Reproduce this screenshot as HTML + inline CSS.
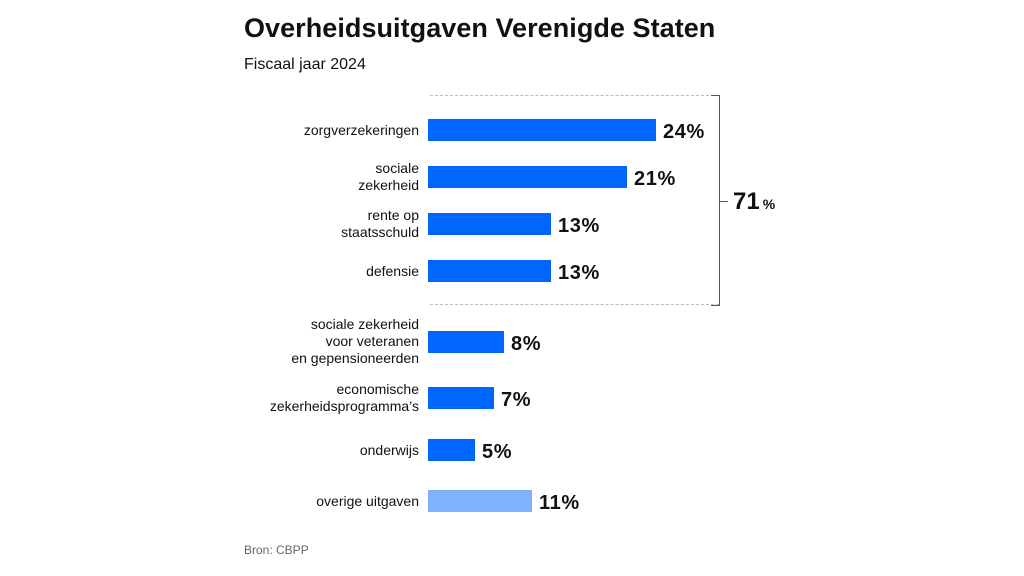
<!DOCTYPE html>
<html><head><meta charset="utf-8"><style>
body{margin:0;width:1024px;height:576px;background:#fff;position:relative;font-family:"Liberation Sans",sans-serif;color:#111;overflow:hidden}
.a{position:absolute}
.l{position:absolute;right:605px;text-align:right;font-size:14px;line-height:17px;color:#111}
.b{position:absolute;left:428px;height:22px;background:#0066ff}
.v{position:absolute;font-size:20px;font-weight:bold;line-height:22px;letter-spacing:0.6px;margin-top:2px}
</style></head><body>
<div class="a" style="left:244px;top:13px;font-size:27px;font-weight:bold;letter-spacing:0.05px">Overheidsuitgaven Verenigde Staten</div>
<div class="a" style="left:244px;top:56px;font-size:16px">Fiscaal jaar 2024</div>
<div class="a" style="left:430px;top:95px;width:289px;border-top:1px dashed #bbb"></div>
<div class="a" style="left:430px;top:304px;width:289px;border-top:1px dashed #bbb"></div>
<div class="a" style="left:711px;top:95px;width:8px;height:209px;border:1px solid #555;border-left:none"></div>
<div class="a" style="left:720px;top:201px;width:8px;border-top:1px solid #555"></div>
<div class="a" style="left:733px;top:188px;font-size:24px;font-weight:bold">71<span style="font-size:14px;margin-left:3px">%</span></div>

<div class="l" style="top:122px">zorgverzekeringen</div>
<div class="b" style="top:119px;width:228px"></div><div class="v" style="left:663px;top:119px">24%</div>
<div class="l" style="top:160px">sociale<br>zekerheid</div>
<div class="b" style="top:166px;width:199px"></div><div class="v" style="left:634px;top:166px">21%</div>
<div class="l" style="top:207px">rente op<br>staatsschuld</div>
<div class="b" style="top:213px;width:123px"></div><div class="v" style="left:558px;top:213px">13%</div>
<div class="l" style="top:263px">defensie</div>
<div class="b" style="top:260px;width:123px"></div><div class="v" style="left:558px;top:260px">13%</div>
<div class="l" style="top:316px">sociale zekerheid<br>voor veteranen<br>en gepensioneerden</div>
<div class="b" style="top:331px;width:76px"></div><div class="v" style="left:511px;top:331px">8%</div>
<div class="l" style="top:381px">economische<br>zekerheidsprogramma’s</div>
<div class="b" style="top:387px;width:66px"></div><div class="v" style="left:501px;top:387px">7%</div>
<div class="l" style="top:442px">onderwijs</div>
<div class="b" style="top:439px;width:47px"></div><div class="v" style="left:482px;top:439px">5%</div>
<div class="l" style="top:493px">overige uitgaven</div>
<div class="b" style="top:490px;width:104px;background:#80b3ff"></div><div class="v" style="left:539px;top:490px">11%</div>
<div class="a" style="left:244px;top:543px;font-size:12px;color:#666">Bron: CBPP</div>
</body></html>
